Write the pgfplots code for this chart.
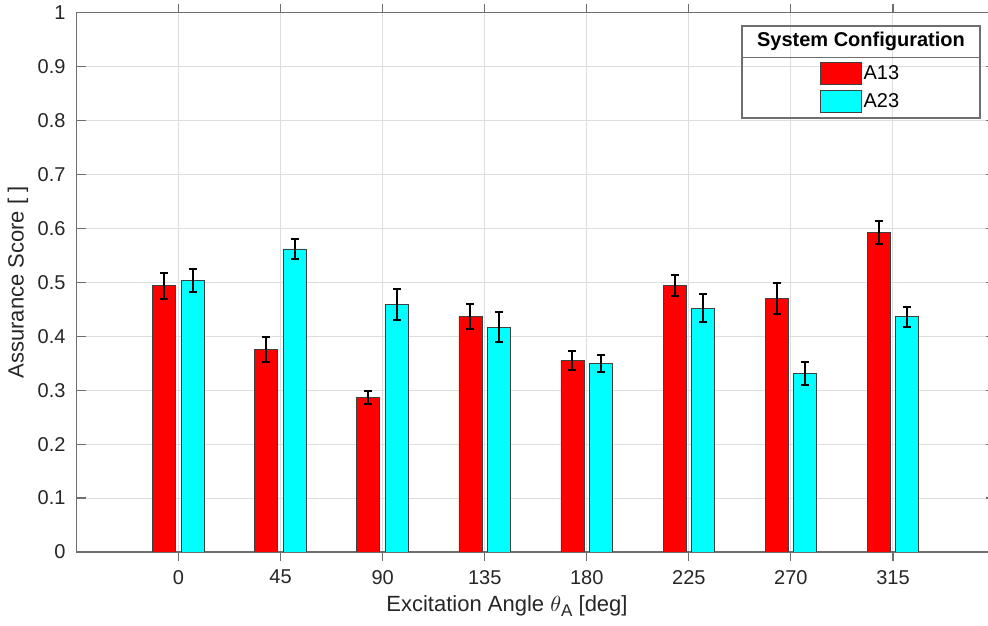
\documentclass[border=0pt]{standalone}
\usepackage{pgfplots}
\pgfplotsset{compat=1.18}
\usepackage{fontspec}
\setmainfont{Liberation Sans}
\definecolor{axgray}{RGB}{110,110,110}
\definecolor{txtgray}{RGB}{38,38,38}
\begin{document}
\begin{tikzpicture}
\begin{axis}[
  at={(0,0)}, anchor=south west,
  scale only axis,
  width=459.25pt, height=269.65pt,
  xmin=-1, xmax=8, ymin=0, ymax=1,
  xtick={0,...,7},
  xticklabels={0,45,90,135,180,225,270,315},
  ytick={0,0.1,...,1.0},
  yticklabels={0,0.1,0.2,0.3,0.4,0.5,0.6,0.7,0.8,0.9,1},
  /pgf/number format/assume math mode=true,
  tick label style={font=\fontsize{10}{12}\selectfont, color=txtgray},
  xticklabel style={yshift=-1pt},
  yticklabel style={xshift=-2pt},
  grid=major,
  major grid style={color=black!13, line width=0.5pt},
  axis line style={color=axgray, line width=0.6pt},
  major tick style={color=axgray, line width=0.6pt},
  major tick length=4.5pt,
  tick align=inside,
  label style={font=\fontsize{11}{13}\selectfont, color=txtgray},
  xlabel={Excitation Angle $\theta$\raisebox{-0.45ex}{\fontsize{8.5}{10}\selectfont A} [deg]},
  ylabel={Assurance Score [ ]},
  xlabel style={at={(axis description cs:0.4687,-0.1)}, anchor=center},
  ylabel style={at={(axis description cs:-0.0637,0.5)}, anchor=center},
  ybar,
  bar width=11.5pt,
  legend image code/.code={\draw[#1] (0pt,-5.5pt) rectangle (20.5pt,5.5pt);},
  legend style={at={(rel axis cs:0.8536,0.861)}, anchor=center, draw=none, fill=none,
    font=\fontsize{10}{12}\selectfont, row sep=2.5pt, inner sep=0pt,
    nodes={inner sep=1pt, text=black}},
  legend cell align=left,
  error bars/error bar style={line width=1pt, black},
  error bars/error mark options={rotate=90, mark size=2pt, line width=1pt, black},
]
\addplot[fill={rgb,1:red,1;green,0;blue,0}, draw=black!75, line width=0.4pt, bar shift=-7.15pt,
  error bars/.cd, y dir=both, y explicit]
coordinates {
(0,0.494) +- (0,0.024)
(1,0.376) +- (0,0.023)
(2,0.287) +- (0,0.012)
(3,0.436) +- (0,0.023)
(4,0.355) +- (0,0.018)
(5,0.494) +- (0,0.019)
(6,0.470) +- (0,0.028)
(7,0.592) +- (0,0.021)
};
\addlegendentry{A13}
\addplot[fill={rgb,1:red,0;green,1;blue,1}, draw=black!75, line width=0.4pt, bar shift=7.15pt,
  error bars/.cd, y dir=both, y explicit]
coordinates {
(0,0.503) +- (0,0.021)
(1,0.562) +- (0,0.019)
(2,0.459) +- (0,0.028)
(3,0.417) +- (0,0.028)
(4,0.350) +- (0,0.016)
(5,0.452) +- (0,0.026)
(6,0.331) +- (0,0.021)
(7,0.436) +- (0,0.019)
};
\addlegendentry{A23}
\draw[color=axgray, line width=0.6pt, fill=none] (rel axis cs:0.7246,0.8048) rectangle (rel axis cs:0.9837,0.9753);
\draw[color=axgray, line width=0.6pt] (rel axis cs:0.7246,0.9166) -- (rel axis cs:0.9837,0.9166);
\node[font=\fontsize{10}{12}\selectfont\bfseries, text=black] at (rel axis cs:0.8541,0.946) {System Configuration};
\end{axis}
\pgfresetboundingbox
\path[use as bounding box] (-38.25pt,-36.5pt) rectangle (455.75pt,276pt);
\end{tikzpicture}
\end{document}
